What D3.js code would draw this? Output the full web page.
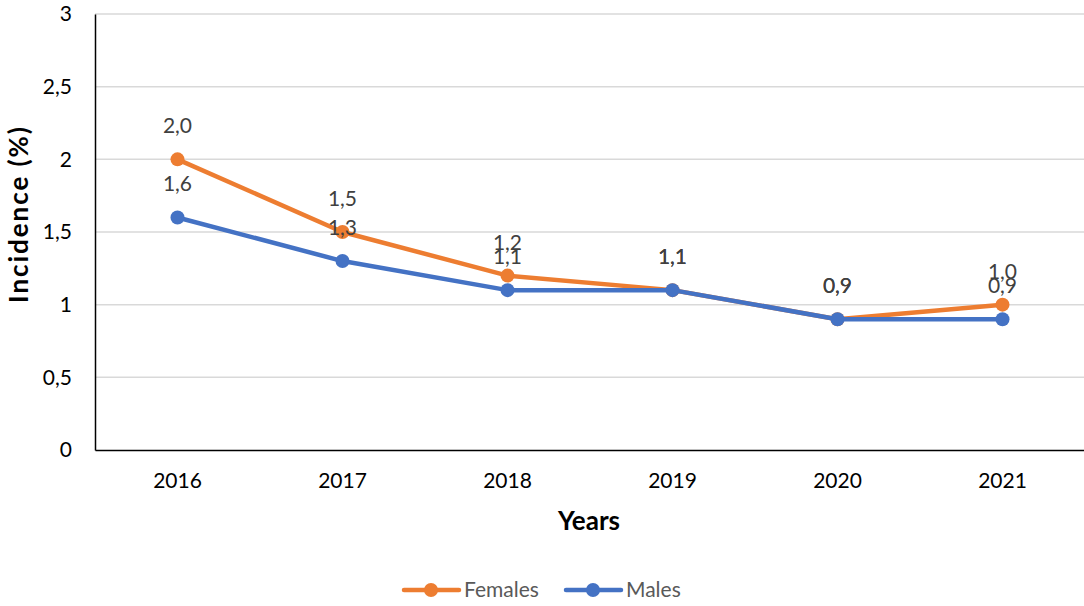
<!DOCTYPE html>
<html>
<head>
<meta charset="utf-8">
<script src="https://cdn.jsdelivr.net/npm/d3@7"></script>
<style>
  html, body { margin: 0; padding: 0; background: #fff; }
  svg { display: block; font-family: Lato, "Open Sans", sans-serif; }
</style>
</head>
<body>
<svg id="chart" width="1084" height="606"></svg>
<script>
const years = ["2016", "2017", "2018", "2019", "2020", "2021"];
const females = [2.0, 1.5, 1.2, 1.1, 0.9, 1.0];
const males = [1.6, 1.3, 1.1, 1.1, 0.9, 0.9];
const yTicks = [0, 0.5, 1, 1.5, 2, 2.5, 3];
const seriesNames = ["Females", "Males"];
const seriesColors = ["#ED7D31", "#4472C4"];

const svg = d3.select("#chart");
const plotLeft = 95, plotRight = 1085, plotTop = 14, plotBottom = 450;

const x = d3.scaleBand().domain(years).range([plotLeft, plotRight]);
const y = d3.scaleLinear().domain([0, 3]).range([plotBottom, plotTop]);
const comma = v => String(v).replace(".", ",");

// horizontal gridlines
svg.append("g")
  .selectAll("line")
  .data(yTicks.filter(t => t > 0))
  .join("line")
  .attr("x1", plotLeft).attr("x2", plotRight)
  .attr("y1", d => y(d)).attr("y2", d => y(d))
  .attr("stroke", "#d9d9d9").attr("stroke-width", 1.5);

// y axis
const yAxis = svg.append("g")
  .attr("transform", `translate(${plotLeft},0)`)
  .call(d3.axisLeft(y).tickValues(yTicks).tickFormat(comma).tickSize(0).tickPadding(23));
yAxis.select(".domain").attr("stroke", "#000").attr("stroke-width", 1.5);
yAxis.selectAll("text").attr("font-size", 21).attr("fill", "#000")
  .attr("font-family", "Lato, sans-serif");

// x axis
const xAxis = svg.append("g")
  .attr("transform", `translate(0,${plotBottom})`)
  .call(d3.axisBottom(x).tickSize(0).tickPadding(23));
xAxis.select(".domain").attr("stroke", "#000").attr("stroke-width", 1.5);
xAxis.selectAll("text").attr("font-size", 21).attr("fill", "#000")
  .attr("font-family", "Lato, sans-serif");

// axis titles
svg.append("text")
  .attr("x", 589).attr("y", 530)
  .attr("text-anchor", "middle")
  .attr("font-size", 26).attr("font-weight", "bold")
  .text("Years");
svg.append("text")
  .attr("transform", "translate(28,215) rotate(-90)")
  .attr("text-anchor", "middle")
  .attr("font-size", 26).attr("font-weight", "bold")
  .attr("textLength", 176).attr("lengthAdjust", "spacing")
  .text("Incidence (%)");

const cx = d => x(d) + x.bandwidth() / 2;
const line = d3.line().x(d => cx(d.year)).y(d => y(d.value));

const series = [females, males].map((vals, i) => ({
  name: seriesNames[i],
  color: seriesColors[i],
  points: years.map((yr, j) => ({ year: yr, value: vals[j] }))
}));

// lines and markers
series.forEach(s => {
  const g = svg.append("g");
  g.append("path")
    .attr("d", line(s.points))
    .attr("fill", "none")
    .attr("stroke", s.color)
    .attr("stroke-width", 4.5)
    .attr("stroke-linejoin", "round");
  g.selectAll("circle")
    .data(s.points)
    .join("circle")
    .attr("cx", d => cx(d.year))
    .attr("cy", d => y(d.value))
    .attr("r", 7)
    .attr("fill", s.color);
});

// value labels above each point
series.forEach(s => {
  svg.append("g").selectAll("text")
    .data(s.points)
    .join("text")
    .attr("x", d => cx(d.year))
    .attr("y", d => y(d.value) - 26)
    .attr("text-anchor", "middle")
    .attr("font-size", 21)
    .attr("fill", "#404040")
    .text(d => d.value.toFixed(1).replace(".", ","));
});

// legend
const legendItems = [
  { x: 404, textX: 464 },
  { x: 566, textX: 626 }
];
series.forEach((s, i) => {
  const it = legendItems[i];
  const g = svg.append("g");
  g.append("line")
    .attr("x1", it.x).attr("x2", it.x + 55)
    .attr("y1", 590).attr("y2", 590)
    .attr("stroke", s.color).attr("stroke-width", 4.5)
    .attr("stroke-linecap", "round");
  g.append("circle")
    .attr("cx", it.x + 27).attr("cy", 590).attr("r", 7)
    .attr("fill", s.color);
  g.append("text")
    .attr("x", it.textX).attr("y", 597)
    .attr("font-size", 21).attr("fill", "#595959")
    .text(s.name);
});
</script>
</body>
</html>
